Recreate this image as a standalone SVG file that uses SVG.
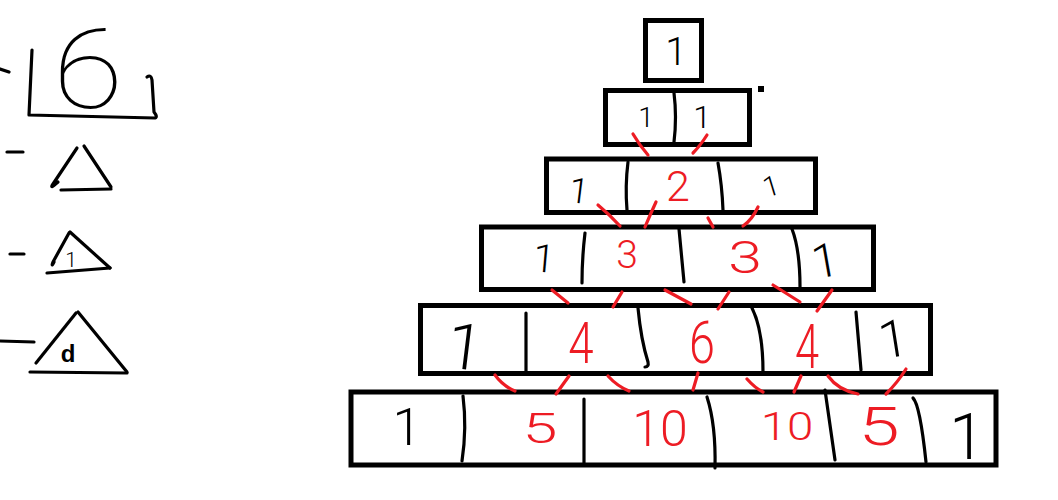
<svg xmlns="http://www.w3.org/2000/svg" width="1058" height="500" viewBox="0 0 1058 500">
<style>
.box{fill:none;stroke:#000;stroke-width:5}
.ink{fill:none;stroke:#000;stroke-width:3.2;stroke-linecap:round;stroke-linejoin:round}
.red{fill:none;stroke:#ed1c24;stroke-width:3.2;stroke-linecap:round;stroke-linejoin:round}
.k{font-family:Roboto,"Liberation Sans",Arial,sans-serif;font-weight:300;fill:#000;text-anchor:middle}
.r{font-family:Roboto,"Liberation Sans",Arial,sans-serif;font-weight:300;fill:#ed1c24;text-anchor:middle}
.big{font-family:Roboto,"Liberation Sans",sans-serif;font-weight:100;fill:#000;text-anchor:middle}
</style>
<rect width="1058" height="500" fill="#fff"/>

<g id="legend">
  <path class="ink" d="M0,69 L9,72"/>
  <path class="ink" d="M32,50 L29,115 L155,118 Q158,117 154,112 L152,80 Q151,74 147,77"/>
  <text class="big" transform="translate(88,108) scale(1.15,1)" font-size="112">6</text>
  <path class="ink" d="M7,152 L23,152"/>
  <path class="ink" d="M77,148 L53,184 Q49,190 58,182"/>
  <path class="ink" d="M84,146 L111,187"/>
  <path class="ink" d="M61,190 L111,189"/>
  <path class="ink" d="M10,254 L24,254"/>
  <path class="ink" d="M69,233 L53,262 Q51,268 54,262"/>
  <path class="ink" d="M70,232 Q90,250 110,268"/>
  <path class="ink" d="M47,273 L110,268"/>
  <text class="k" x="71" y="267" font-size="21" font-weight="400">1</text>
  <path class="ink" d="M0,341 L34,342"/>
  <path class="ink" d="M76,313 L36,363"/>
  <path class="ink" d="M78,312 L127,372"/>
  <path class="ink" d="M30,372 L127,373"/>
  <text x="68" y="362" font-size="24" font-family="'Liberation Sans',Arial,sans-serif" font-weight="bold" text-anchor="middle" fill="#000">d</text>
</g>

<g id="row1">
  <rect class="box" x="645.5" y="20.5" width="56" height="60"/>
  <text class="k" x="676" y="65" font-size="39">1</text>
</g>

<g id="row2">
  <rect class="box" x="605.5" y="90.5" width="144" height="54"/>
  <path class="ink" d="M674,93 Q677,117 674,142"/>
  <text class="k" x="646" y="127" font-size="28">1</text>
  <text class="k" x="702" y="128" font-size="32">1</text>
  <rect x="758" y="86" width="6" height="6" fill="#000"/>
</g>

<g id="row3">
  <rect class="box" x="546.5" y="159" width="269" height="53.5"/>
  <path class="ink" d="M628,162 Q625,186 627,210"/>
  <path class="ink" d="M718,163 Q722,185 723,210"/>
  <text class="k" x="579" y="203" font-size="35" transform="rotate(7 579 190)">1</text>
  <text class="r" x="678" y="201" font-size="43">2</text>
  <text class="k" x="771" y="196" font-size="28" transform="rotate(-17 771 186)">1</text>
</g>

<g id="row4">
  <rect class="box" x="481.5" y="227" width="392" height="62.5"/>
  <path class="ink" d="M585,233 Q582,258 582,283"/>
  <path class="ink" d="M679,229 L684,282"/>
  <path class="ink" d="M792,229 Q800,250 800,287"/>
  <text class="k" x="544" y="272" font-size="39" transform="rotate(5 544 258)">1</text>
  <text class="r" x="627" y="268" font-size="39">3</text>
  <text class="r" transform="translate(745,273) scale(1.35,1)" font-size="45">3</text>
  <text class="k" x="825" y="277" font-size="47" transform="rotate(-10 825 260)">1</text>
</g>

<g id="row5">
  <rect class="box" x="420.5" y="305.5" width="510" height="68"/>
  <path class="ink" d="M526,313 L526,372"/>
  <path class="ink" d="M638,308 Q641,340 648,362 Q649,367 645,367"/>
  <path class="ink" d="M752,308 Q763,330 763,372"/>
  <path class="ink" d="M856,312 L861,370"/>
  <text class="k" x="465" y="369" font-size="64" transform="rotate(7 465 346)">1</text>
  <text class="r" transform="translate(581,363) scale(0.8,1)" font-size="57">4</text>
  <text class="r" transform="translate(702,363) scale(0.78,1)" font-size="60">6</text>
  <text class="r" transform="translate(807,368) scale(0.7,1)" font-size="62">4</text>
  <text class="k" x="893" y="357" font-size="52" transform="rotate(-9 893 338)">1</text>
</g>

<g id="row6">
  <rect class="box" x="351" y="392" width="645" height="73"/>
  <path class="ink" d="M463,396 Q467,428 462,461"/>
  <path class="ink" d="M584,399 L584,463"/>
  <path class="ink" d="M707,397 Q716,425 715,468"/>
  <path class="ink" d="M825,390 L835,460"/>
  <path class="ink" d="M913,398 Q920,405 926,462"/>
  <text class="k" x="407" y="445" font-size="52">1</text>
  <text class="r" transform="translate(540,443) scale(1.5,1)" font-size="42">5</text>
  <text class="r" x="660" y="446" font-size="50">10</text>
  <text class="r" transform="translate(787,440) scale(1.25,1)" font-size="38">10</text>
  <text class="r" transform="translate(879,445) scale(1.4,1)" font-size="53">5</text>
  <text class="k" x="967" y="459" font-size="64">1</text>
</g>

<g id="connectors">
  <path class="red" d="M633,134 Q640,146 648,155"/>
  <path class="red" d="M707,135 Q700,146 693,153"/>
  <path class="red" d="M598,205 Q610,215 620,226"/>
  <path class="red" d="M656,202 Q650,215 645,227"/>
  <path class="red" d="M708,218 L713,227"/>
  <path class="red" d="M758,207 Q752,220 743,226"/>
  <path class="red" d="M552,290 L568,303"/>
  <path class="red" d="M622,292 L613,307"/>
  <path class="red" d="M665,290 L691,304"/>
  <path class="red" d="M729,292 L718,309"/>
  <path class="red" d="M773,285 L800,302"/>
  <path class="red" d="M832,290 L817,311"/>
  <path class="red" d="M495,375 Q503,386 515,391"/>
  <path class="red" d="M569,376 L556,394"/>
  <path class="red" d="M608,376 Q617,386 629,391"/>
  <path class="red" d="M698,373 L693,390"/>
  <path class="red" d="M747,379 Q755,388 763,392"/>
  <path class="red" d="M801,376 L794,392"/>
  <path class="red" d="M828,376 Q838,390 858,394"/>
  <path class="red" d="M906,369 Q898,382 886,394"/>
</g>
</svg>
